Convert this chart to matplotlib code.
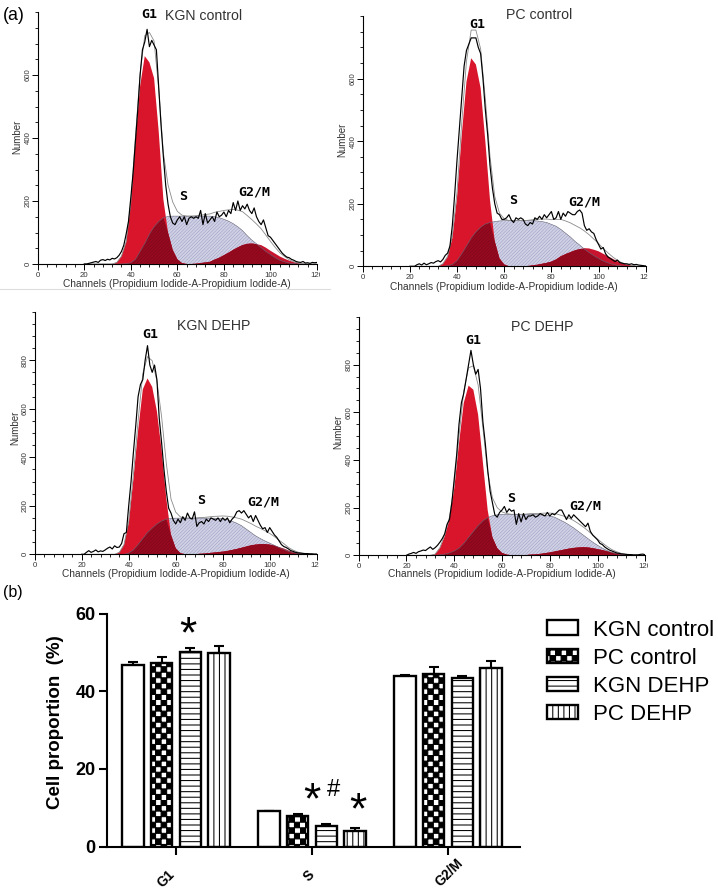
import numpy as np
import matplotlib
matplotlib.use("Agg")
import matplotlib.pyplot as plt
import matplotlib.hatch as mhatch
from matplotlib.lines import Line2D
from matplotlib.path import Path
from matplotlib.transforms import Bbox, ScaledTranslation

W, H = 718, 891
plt.rcParams['font.family'] = ['Liberation Sans', 'DejaVu Sans']

# ---- data: even channels 20..120 for components, every channel 20..120 for histogram
fit_channels = np.arange(20, 122, 2)
hist_channels = np.arange(20, 121)

kgn_ctrl_g1 = [0,0,0,0,0,0,0,5,25,70, 190,390,565,660,640,590,420,205,100,45, 15,3,0,0,0,0,0,0,0,0, 0,0,0,0,0,0,0,0,0,0, 0,0,0,0,0,0,0,0,0,0, 0]
kgn_ctrl_s = [0,0,0,0,0,0,0,0,0,1, 4,15,40,65,95,118,135,147,151,152, 152,152,152,152,152,152,152,152,150,147, 142,136,128,118,106,90,76,64,52,40, 30,20,12,7,3,1,0,0,0,0, 0]
kgn_ctrl_g2 = [0,0,0,0,0,0,0,0,0,0, 0,0,0,0,0,0,0,0,0,0, 0,0,0,0,1,3,5,7,14,20, 28,36,45,53,60,64,65,63,60,52, 42,33,24,17,11,6,3,1,0,0, 0]
kgn_ctrl_hist = [0,0,2,4,6,8,5,12,14,11, 15,13,18,16,20,28,40,60,95,135,
                 210,290,390,490,600,680,705,745,690,710, 695,680,560,440,340,250,190,150,130,125,
                 140,150,135,150,125,145,150,145,150,145, 170,125,160,130,140,150,135,165,150,155,
                 165,150,170,160,195,170,200,170,185,175, 190,170,160,178,150,135,125,140,115,90,
                 85,75,65,55,45,35,28,22,20,15, 12,8,6,5,8,3,4,2,5,4, 5]

pc_ctrl_g1 = [0,0,0,0,0,0,0,8,30,90, 220,420,590,665,645,570,400,210,80,25, 6,0,0,0,0,0,0,0,0,0, 0,0,0,0,0,0,0,0,0,0, 0,0,0,0,0,0,0,0,0,0, 0]
pc_ctrl_s = [0,0,0,0,0,0,0,0,2,6, 18,40,65,90,110,125,135,140,143,145, 146,146,146,146,146,146,146,145,143,140, 134,128,118,106,94,80,68,55,44,34, 25,17,11,6,3,1,0,0,0,0, 0]
pc_ctrl_g2 = [0,0,0,0,0,0,0,0,0,0, 0,0,0,0,0,0,0,0,0,0, 0,0,0,0,0,1,3,5,8,11, 15,22,32,39,45,51,55,58,57,53, 48,40,32,24,16,10,6,3,1,0, 0]
pc_ctrl_hist = [0,0,0,5,8,4,10,5,8,12, 10,15,18,14,22,35,42,65,130,230,
                340,440,540,640,690,710,730,730,730,700, 680,600,500,420,320,250,200,170,165,150,
                150,155,165,148,140,155,150,155,150,135, 130,140,135,155,150,160,150,165,155,165,
                175,150,155,175,150,170,160,175,170,165, 165,175,180,170,130,115,120,110,105,85,
                70,55,60,40,30,25,20,15,20,12, 10,8,8,6,8,5,6,4,3,2, 1]

kgn_dehp_g1 = [0,0,0,0,0,0,0,0,8,40, 130,310,510,680,725,690,590,430,230,80, 25,5,0,0,0,0,0,0,0,0, 0,0,0,0,0,0,0,0,0,0, 0,0,0,0,0,0,0,0,0,0, 0]
kgn_dehp_s = [0,0,0,0,0,0,0,0,0,0, 5,18,40,65,90,108,125,137,145,148, 149,149,149,149,149,149,149,149,149,148, 147,143,136,128,118,104,90,76,65,55, 46,37,28,20,12,7,3,1,0,0, 0]
kgn_dehp_g2 = [0,0,0,0,0,0,0,0,0,0, 0,0,0,0,0,0,0,0,0,0, 0,0,0,0,0,2,3,5,7,9, 11,14,18,22,27,32,37,40,42,42, 40,36,30,24,16,10,6,3,1,0, 0]
kgn_dehp_hist = [0,0,8,15,8,12,18,10,14,12, 18,25,30,22,35,28,30,45,85,90,
                 200,300,420,530,650,700,720,800,860,780, 750,780,720,560,460,350,260,190,170,140,
                 125,145,130,155,140,170,150,145,175,115, 130,135,125,145,135,150,145,140,150,135,
                 150,140,150,130,145,155,175,180,170,180, 165,150,160,135,160,140,120,105,110,90,
                 110,95,80,70,55,40,32,28,22,15, 12,8,6,5,4,3,3,2,2,1, 1]

pc_dehp_g1 = [0,0,0,0,0,0,5,30,80,150, 280,470,640,712,695,590,390,190,75,30, 10,3,0,0,0,0,0,0,0,0, 0,0,0,0,0,0,0,0,0,0, 0,0,0,0,0,0,0,0,0,0, 0]
pc_dehp_s = [0,0,0,0,0,0,0,2,5,10, 18,30,50,75,100,125,145,158,166,170, 172,172,172,172,172,172,172,171,170,168, 165,160,150,140,128,115,100,85,70,55, 42,30,20,12,7,3,1,0,0,0, 0]
pc_dehp_g2 = [0,0,0,0,0,0,0,0,0,0, 0,0,0,0,0,0,0,0,0,0, 0,0,0,0,0,1,3,4,6,9, 12,16,20,24,28,31,33,34,33,30, 26,22,17,12,8,5,3,1,0,0, 0]
pc_dehp_hist = [0,5,8,12,8,15,18,22,20,28, 35,25,32,42,55,70,90,130,150,220,
                320,420,550,640,680,740,800,860,800,760, 780,700,560,470,360,270,220,170,160,180,
                190,205,180,195,185,190,130,175,140,175, 150,165,165,170,160,165,175,170,165,180,
                165,175,170,180,190,190,170,150,170,155, 170,160,150,140,130,120,135,100,85,75,
                65,50,45,35,28,22,18,14,10,8, 6,5,4,3,3,2,2,2,4,5, 2]

panel_names = ['KGN control', 'PC control', 'KGN DEHP', 'PC DEHP']
y_limits = [800, 800, 1000, 1000]
y_major = [[0, 200, 400, 600], [0, 200, 400, 600], [0, 200, 400, 600, 800], [0, 200, 400, 600, 800]]

phases = ['G1', 'S', 'G2/M']
kgn_control_pct = [46.8, 9.1, 43.8]
pc_control_pct = [47.3, 8.0, 44.5]
kgn_dehp_pct = [50.2, 5.4, 43.5]
pc_dehp_pct = [49.8, 4.0, 45.9]
kgn_control_err = [0.8, 0.1, 0.3]
pc_control_err = [1.5, 0.5, 1.7]
kgn_dehp_err = [0.9, 0.4, 0.5]
pc_dehp_err = [1.8, 0.8, 1.8]


# ---- checkerboard hatch (takes the place of the star hatch)
class Checker(mhatch.HatchPatternBase):
    filled = True

    def __init__(self, hatch, density):
        self.n = hatch.count('*') * density
        self.cells = [(i, j) for i in range(self.n) for j in range(self.n) if (i + j) % 2 == 0]
        self.num_vertices = len(self.cells) * 5

    def set_vertices_and_codes(self, vertices, codes):
        s = 1.0 / self.n
        k = 0
        for i, j in self.cells:
            vertices[k:k + 5] = [(i * s, j * s), ((i + 1) * s, j * s), ((i + 1) * s, (j + 1) * s),
                                 (i * s, (j + 1) * s), (i * s, j * s)]
            codes[k:k + 5] = [Path.MOVETO, Path.LINETO, Path.LINETO, Path.LINETO, Path.CLOSEPOLY]
            k += 5


mhatch._hatch_types[:] = [t for t in mhatch._hatch_types if t is not mhatch.Stars] + [Checker]

fig = plt.figure(figsize=(W / 100, H / 100), dpi=100, facecolor='white')


def ax_px(l, t, r, b):
    return fig.add_axes([l / W, 1 - b / H, (r - l) / W, (b - t) / H])


def txt(x, y, s, **kw):
    kw.setdefault('ha', 'center')
    kw.setdefault('va', 'center')
    return fig.text(x / W, 1 - y / H, s, **kw)


RED = '#d9152b'
DARK = '#960a20'
RED2 = '#c8142e'
LAV = '#d0d1e4'
GRAY = '#333333'

geom = [(37.7, 12, 317, 264), (362.7, 16, 645.7, 266.3), (34.7, 311.7, 316.7, 554.3), (358.7, 317, 645.3, 555.3)]
series = [(kgn_ctrl_g1, kgn_ctrl_s, kgn_ctrl_g2, kgn_ctrl_hist),
          (pc_ctrl_g1, pc_ctrl_s, pc_ctrl_g2, pc_ctrl_hist),
          (kgn_dehp_g1, kgn_dehp_s, kgn_dehp_g2, kgn_dehp_hist),
          (pc_dehp_g1, pc_dehp_s, pc_dehp_g2, pc_dehp_hist)]
title_pos = [(204, 15.5), (539, 15), (214, 326), (542, 327)]
g1_pos = [(149, 15), (477, 25), (150, 335), (473, 340)]
s_pos = [(183, 197), (513, 201), (201, 500), (511, 498)]
g2_pos = [(254, 192), (584, 202), (263, 502), (585, 506)]
num_pos = [(17, 137), (342.5, 140), (15, 428), (338, 432)]
xlab_pos = [(177, 284), (504, 287), (176, 574), (502, 574)]

for i, (l, t, r, b) in enumerate(geom):
    ax = ax_px(l, t, r, b)
    g1, s, g2, hist = [np.array(a, float) for a in series[i]]
    plt.rcParams['hatch.linewidth'] = 0.3
    ax.fill_between(fit_channels, 0, s, facecolor=LAV, edgecolor='#8f92bf', hatch='/' * 10, lw=0, zorder=1)
    ax.fill_between(fit_channels, 0, g1, facecolor=RED, lw=0, zorder=2)
    ax.fill_between(fit_channels, 0, g2, facecolor=RED2, lw=0, zorder=2)
    ax.fill_between(fit_channels, 0, np.minimum(g1, s), facecolor=DARK, edgecolor='#720616',
                    hatch='/' * 10, lw=0, zorder=3)
    ax.fill_between(fit_channels, 0, np.minimum(g2, s), facecolor=DARK, edgecolor='#820718',
                    hatch='/' * 10, lw=0, zorder=3)
    ax.plot(fit_channels, s, color='#666677', lw=0.4, zorder=4)
    ax.plot(fit_channels, g1 + s + g2, color='#8a8a8a', lw=0.6, zorder=5)
    ax.plot(hist_channels, hist, color='black', lw=0.85, zorder=6)
    ax.set_xlim(0, 120)
    ax.set_ylim(0, y_limits[i])
    ax.patch.set_alpha(0)
    for sp in ('top', 'right'):
        ax.spines[sp].set_visible(False)
    for sp in ('left', 'bottom'):
        ax.spines[sp].set_linewidth(0.8)
    ax.set_xticks(np.arange(0, 121, 20))
    ax.set_xticks(np.arange(0, 121, 4), minor=True)
    ax.set_yticks(y_major[i])
    ax.set_yticks(np.arange(0, y_limits[i] + 1, 50), minor=True)
    ax.tick_params(axis='x', which='major', length=4, width=0.7, labelsize=5.6, labelcolor=GRAY, pad=1.5)
    ax.tick_params(axis='y', which='major', length=4, width=0.7, labelsize=5.6, labelcolor=GRAY, pad=0.5)
    ax.tick_params(axis='both', which='minor', length=2.5, width=0.6)
    for lab in ax.get_yticklabels():
        lab.set_rotation(90)
        lab.set_va('center')
    last = ax.get_xticklabels()[-1]
    last.set_clip_on(True)
    last.set_clip_box(Bbox([[0, 0], [(r + 2.5), H]]))
    txt(*title_pos[i], panel_names[i], fontsize=10.2, color='#333333')
    txt(*g1_pos[i], 'G1', fontsize=9.5, fontweight='bold', family='DejaVu Sans Mono')
    txt(*s_pos[i], 'S', fontsize=9.5, fontweight='bold', family='DejaVu Sans Mono')
    txt(*g2_pos[i], 'G2/M', fontsize=9.5, fontweight='bold', family='DejaVu Sans Mono')
    txt(*num_pos[i], 'Number', fontsize=7.0, rotation=90, color=GRAY)
    txt(*xlab_pos[i], 'Channels (Propidium Iodide-A-Propidium Iodide-A)', fontsize=7.25, color=GRAY)

fig.add_artist(Line2D([0, 330 / W], [1 - 289 / H, 1 - 289 / H], color='#dddddd', lw=0.8))
txt(3, 15, '(a)', fontsize=12.8, ha='left')
txt(3, 592, '(b)', fontsize=11.5, ha='left')

# ---- bar panel
ax = ax_px(106.7, 613.5, 520, 846.7)
plt.rcParams['hatch.linewidth'] = 0.75
x = np.arange(len(phases))
off = 0.211
bw = 0.158
bar_groups = [(kgn_control_pct, kgn_control_err, '', 'KGN control'),
              (pc_control_pct, pc_control_err, '***', 'PC control'),
              (kgn_dehp_pct, kgn_dehp_err, '---', 'KGN DEHP'),
              (pc_dehp_pct, pc_dehp_err, '|||', 'PC DEHP')]
handles = []
for k, (vals, errs, hatch, name) in enumerate(bar_groups):
    xs = x + (k - 1.5) * off
    ax.errorbar(xs, vals, yerr=[np.zeros(3), errs], fmt='none', ecolor='black', elinewidth=1.5,
                capsize=3.5, capthick=1.5, zorder=1)
    h = ax.bar(xs, vals, bw, facecolor='white', edgecolor='black', linewidth=1.7, hatch=hatch, label=name, zorder=2)
    handles.append(h)
ax.set_xlim(-0.51, 2.53)
ax.set_ylim(0, 60)
ax.patch.set_alpha(0)
for sp in ('top', 'right'):
    ax.spines[sp].set_visible(False)
for sp in ('left', 'bottom'):
    ax.spines[sp].set_linewidth(1.5)
ax.set_xticks(x)
ax.set_xticklabels(phases, rotation=45, ha='center', fontsize=9.8, fontweight='bold')
ax.set_yticks([0, 20, 40, 60])
ax.tick_params(axis='y', length=6, width=1.5, labelsize=13, pad=2)
ax.tick_params(axis='x', length=6, width=1.5)
x_pads = [9, 9, 0.5]
x_shift_px = [-10, -3, 1]
for tick, p, dx in zip(ax.xaxis.get_major_ticks(), x_pads, x_shift_px):
    tick.set_pad(p)
    tick.label1.set_transform(tick.label1.get_transform() + ScaledTranslation(dx / 100, 0, fig.dpi_scale_trans))
for lab in ax.get_yticklabels():
    lab.set_fontweight('bold')
txt(56, 722, 'Cell proportion  (%)', fontsize=13.5, fontweight='bold', rotation=90)
ax.text(0.09, 54.2, '*', fontsize=32, ha='center', va='center')
ax.text(1.0, 11.5, '*', fontsize=32, ha='center', va='center')
ax.text(1.16, 14.5, '#', fontsize=17, ha='center', va='center')
ax.text(1.34, 8.9, '*', fontsize=32, ha='center', va='center')
ax.legend(handles=handles, loc='upper left', bbox_to_anchor=(547 / W, 1 - 619.5 / H),
          bbox_transform=fig.transFigure, frameon=False, fontsize=16, handlelength=1.41,
          handleheight=0.63, labelspacing=0.32, handletextpad=0.68, borderpad=0, borderaxespad=0)

fig.savefig('out.png', dpi=100)
